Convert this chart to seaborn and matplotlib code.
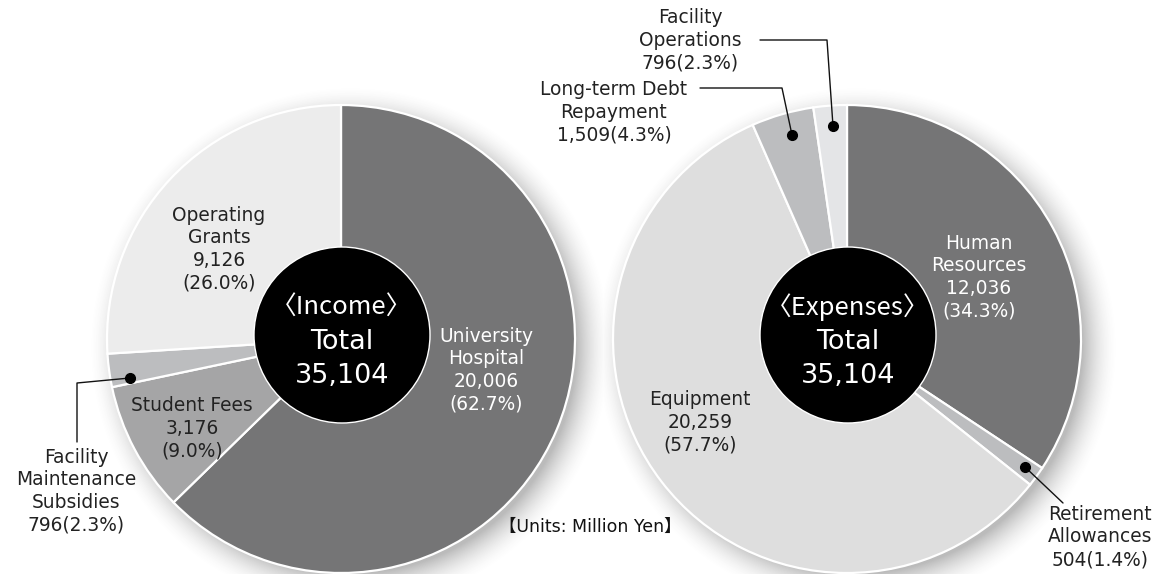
import numpy as np
import matplotlib
matplotlib.use("Agg")
import matplotlib.pyplot as plt
import seaborn as sns

# Income breakdown (million yen)
income_names = ["University\nHospital", "Student Fees", "Facility\nMaintenance\nSubsidies", "Operating\nGrants"]
income_amounts = [20006, 3176, 796, 9126]
income_pcts = [62.7, 9.0, 2.3, 26.0]
income_colors = ["#757576", "#a5a5a6", "#bcbdbf", "#ececec"]
income_total = 35104

# Expense breakdown (million yen)
expense_names = ["Human\nResources", "Retirement\nAllowances", "Equipment", "Long-term Debt\nRepayment", "Facility\nOperations"]
expense_amounts = [12036, 504, 20259, 1509, 796]
expense_pcts = [34.3, 1.4, 57.7, 4.3, 2.3]
expense_colors = ["#757576", "#bcbdbf", "#dedede", "#bcbdbf", "#e4e5e7"]
expense_total = 35104

units_text = "【Units: Million Yen】"

W, H = 1167, 574
sns.set_theme(style="white")
plt.rcParams["font.family"] = ["DejaVu Sans", "Noto Sans CJK JP"]

fig = plt.figure(figsize=(W / 100, H / 100), dpi=100)
ax = fig.add_axes([0, 0, 1, 1])

R = 234
centers = [(341, 339), (847, 339)]  # pixel coords, y measured from top


def Y(y):
    return H - y


# soft drop shadow behind both pies
yy, xx = np.mgrid[0:H, 0:W]
alpha = np.zeros((H, W))
for cx, cy in centers:
    d = np.hypot(xx - (cx + 9), yy - (cy + 8))
    a = 0.38 * np.clip(1 - (d - (R - 8)) / 36.0, 0, 1) ** 1.8
    alpha = np.maximum(alpha, a)
shadow = np.zeros((H, W, 4))
shadow[..., :3] = 0.3
shadow[..., 3] = alpha
ax.imshow(shadow, extent=(0, W, 0, H), origin="upper", zorder=0, interpolation="bilinear")

wedge_style = dict(edgecolor="white", linewidth=1.6)
for (cx, cy), pcts, cols in [(centers[0], income_pcts, income_colors),
                             (centers[1], expense_pcts, expense_colors)]:
    ax.pie(pcts, colors=cols, startangle=90, counterclock=False,
           center=(cx, Y(cy)), radius=R, wedgeprops=wedge_style)
    ax.add_patch(plt.Circle((cx + 1, Y(cy - 4)), 88, color="black", zorder=5,
                            ec="white", lw=1.0))

ax.set_xlim(0, W)
ax.set_ylim(0, H)
ax.set_aspect("equal")
ax.axis("off")

lab_kw = dict(ha="center", va="center", fontsize=13.4, linespacing=1.24, color="#222222", zorder=6)


def label(i, names, amounts, pcts, x, y, color="#222222", inline=False):
    if inline:
        txt = f"{names[i]}\n{amounts[i]:,}({pcts[i]:.1f}%)"
    else:
        txt = f"{names[i]}\n{amounts[i]:,}\n({pcts[i]:.1f}%)"
    kw = dict(lab_kw)
    kw["color"] = color
    ax.text(x, Y(y), txt, **kw)


# income labels
label(0, income_names, income_amounts, income_pcts, 486, 370, color="white")
label(1, income_names, income_amounts, income_pcts, 192, 428)
label(2, income_names, income_amounts, income_pcts, 76, 491, inline=True)
label(3, income_names, income_amounts, income_pcts, 219, 249)

# expense labels
label(0, expense_names, expense_amounts, expense_pcts, 979, 277, color="white")
label(1, expense_names, expense_amounts, expense_pcts, 1100, 537, inline=True)
label(2, expense_names, expense_amounts, expense_pcts, 700, 422)
label(3, expense_names, expense_amounts, expense_pcts, 614, 112, inline=True)
label(4, expense_names, expense_amounts, expense_pcts, 690, 40, inline=True)

# leader lines with dots
leaders = [
    [(130, 378), (77, 383), (77, 442)],
    [(1025, 467), (1063, 503)],
    [(792, 135), (782, 88), (700, 88)],
    [(833, 126), (827, 40), (760, 40)],
]
for pts in leaders:
    xs = [p[0] for p in pts]
    ys = [Y(p[1]) for p in pts]
    ax.plot(xs, ys, color="#111111", lw=1.0, zorder=7)
    ax.plot(xs[0], ys[0], "o", color="#000000", ms=7, zorder=8)

# centre totals
for (cx, cy), title, total in [(centers[0], "〈Income〉", income_total),
                               (centers[1], "〈Expenses〉", expense_total)]:
    ax.text(cx + 1, Y(307), title, ha="center", va="center", color="white", fontsize=18.5,
            family=["Liberation Sans Narrow", "Noto Sans CJK JP"], zorder=9)
    ax.text(cx + 1, Y(342), "Total", ha="center", va="center", color="white", fontsize=19.5,
            zorder=9)
    ax.text(cx + 1, Y(376), f"{total:,}", ha="center", va="center", color="white", fontsize=19.5,
            zorder=9)

ax.text(590, Y(527), units_text, ha="center", va="center", fontsize=12.5, color="#111111", zorder=9)

fig.savefig("out.png", dpi=100)
